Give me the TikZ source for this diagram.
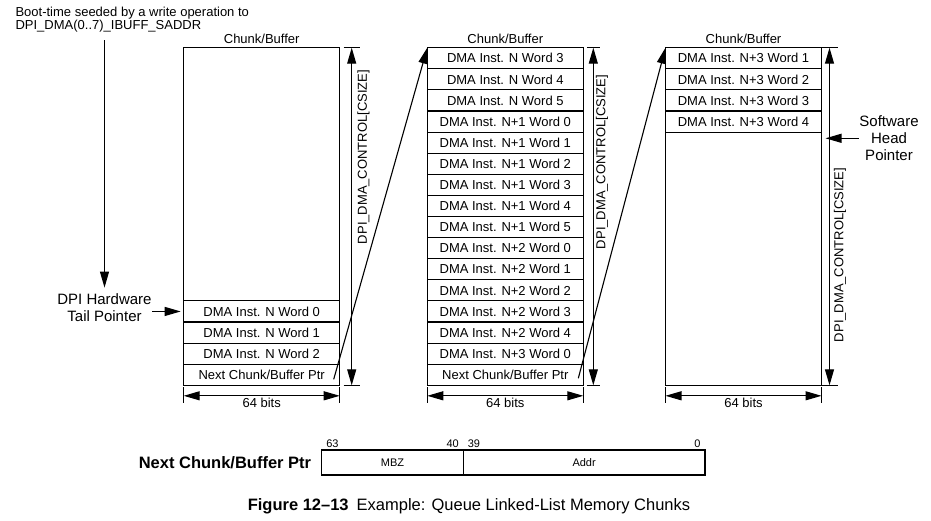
\documentclass[tikz,border=0pt]{standalone}
\usepackage{fontspec}
\setmainfont{Liberation Sans}
\usepackage{tikz}
\usetikzlibrary{arrows.meta, positioning, calc}

\begin{document}
\begin{tikzpicture}[x=1pt, y=-1pt, line width=1.1pt, font=\fontsize{13}{15}\selectfont]
    \tikzstyle{chunk} = [rectangle, draw=black, minimum width=156pt, minimum height=337.6pt, outer sep=0pt, anchor=north west]
    \tikzstyle{word} = [rectangle, draw=black, minimum width=156pt, minimum height=21.1pt, inner sep=0pt, outer sep=0pt]
    \tikzstyle{arrow} = [-{Triangle[length=16pt,width=9pt]}]
    \tikzstyle{dimarrow} = [{Triangle[length=16pt,width=9pt]}-{Triangle[length=16pt,width=9pt]}]
    \tikzstyle{csize} = [rotate=90, inner sep=0pt]
    \tikzstyle{field} = [rectangle, draw=black, minimum height=25pt, inner sep=0pt, outer sep=0pt, font=\fontsize{11}{13}\selectfont]
    \tikzstyle{bitnum} = [inner xsep=4pt, inner ysep=2pt, font=\fontsize{11}{13}\selectfont]

    \useasboundingbox (0,0) rectangle (931,520);

    % chunk frames
    \node (chunk1) [chunk] at (183.7,47.7) {};
    \node (chunk2) [chunk] at (427.3,47.7) {};
    \node (chunk3) [chunk] at (665.5,47.7) {};
    \node (title1) [above=0pt of chunk1] {Chunk/Buffer};
    \node (title2) [above=0pt of chunk2] {Chunk/Buffer};
    \node (title3) [above=0pt of chunk3] {Chunk/Buffer};

    % first chunk
    \node (c1ptr) [word, anchor=south] at (chunk1.south) {Next Chunk/Buffer Ptr};
    \node (c1nw2) [word, above=0pt of c1ptr] {DMA Inst. N Word 2};
    \node (c1nw1) [word, above=0pt of c1nw2] {DMA Inst. N Word 1};
    \node (c1nw0) [word, above=0pt of c1nw1] {DMA Inst. N Word 0};

    % second chunk
    \node (c2nw3) [word, anchor=north] at (chunk2.north) {DMA Inst. N Word 3};
    \node (c2nw4) [word, below=0pt of c2nw3] {DMA Inst. N Word 4};
    \node (c2nw5) [word, below=0pt of c2nw4] {DMA Inst. N Word 5};
    \node (c2n1w0) [word, below=0pt of c2nw5] {DMA Inst. N+1 Word 0};
    \node (c2n1w1) [word, below=0pt of c2n1w0] {DMA Inst. N+1 Word 1};
    \node (c2n1w2) [word, below=0pt of c2n1w1] {DMA Inst. N+1 Word 2};
    \node (c2n1w3) [word, below=0pt of c2n1w2] {DMA Inst. N+1 Word 3};
    \node (c2n1w4) [word, below=0pt of c2n1w3] {DMA Inst. N+1 Word 4};
    \node (c2n1w5) [word, below=0pt of c2n1w4] {DMA Inst. N+1 Word 5};
    \node (c2n2w0) [word, below=0pt of c2n1w5] {DMA Inst. N+2 Word 0};
    \node (c2n2w1) [word, below=0pt of c2n2w0] {DMA Inst. N+2 Word 1};
    \node (c2n2w2) [word, below=0pt of c2n2w1] {DMA Inst. N+2 Word 2};
    \node (c2n2w3) [word, below=0pt of c2n2w2] {DMA Inst. N+2 Word 3};
    \node (c2n2w4) [word, below=0pt of c2n2w3] {DMA Inst. N+2 Word 4};
    \node (c2n3w0) [word, below=0pt of c2n2w4] {DMA Inst. N+3 Word 0};
    \node (c2ptr) [word, below=0pt of c2n3w0] {Next Chunk/Buffer Ptr};

    % third chunk
    \node (c3n3w1) [word, anchor=north] at (chunk3.north) {DMA Inst. N+3 Word 1};
    \node (c3n3w2) [word, below=0pt of c3n3w1] {DMA Inst. N+3 Word 2};
    \node (c3n3w3) [word, below=0pt of c3n3w2] {DMA Inst. N+3 Word 3};
    \node (c3n3w4) [word, below=0pt of c3n3w3] {DMA Inst. N+3 Word 4};

    % chunk size
    \draw ([xshift=4pt]chunk1.north east) -- ([xshift=20pt]chunk1.north east);
    \draw ([xshift=4pt]chunk1.south east) -- ([xshift=20pt]chunk1.south east);
    \draw [dimarrow] ([xshift=12pt]chunk1.north east) -- ([xshift=12pt]chunk1.south east);
    \node (csize1) [csize] at (363.5,157) {DPI\_DMA\_CONTROL[CSIZE]};
    \draw ([xshift=3.5pt]chunk2.north east) -- ([xshift=17pt]chunk2.north east);
    \draw ([xshift=3.5pt]chunk2.south east) -- ([xshift=17pt]chunk2.south east);
    \draw [dimarrow] ([xshift=10pt]chunk2.north east) -- ([xshift=10pt]chunk2.south east);
    \node (csize2) [csize] at (602,162) {DPI\_DMA\_CONTROL[CSIZE]};
    \draw (chunk3.north east) -- ([xshift=16.5pt]chunk3.north east);
    \draw (chunk3.south east) -- ([xshift=16.5pt]chunk3.south east);
    \draw [dimarrow] ([xshift=8pt]chunk3.north east) -- ([xshift=8pt]chunk3.south east);
    \node (csize3) [csize] at (840,255) {DPI\_DMA\_CONTROL[CSIZE]};

    % 64 bits
    \draw ([yshift=-2pt]chunk1.south west) -- ([yshift=-18pt]chunk1.south west);
    \draw ([yshift=-2pt]chunk1.south east) -- ([yshift=-18pt]chunk1.south east);
    \draw [dimarrow] ([yshift=-10.5pt]chunk1.south west) -- ([yshift=-10.5pt]chunk1.south east) node [midway, below, inner sep=2pt] (bits1) {64 bits};
    \draw ([yshift=-2pt]chunk2.south west) -- ([yshift=-18pt]chunk2.south west);
    \draw ([yshift=-2pt]chunk2.south east) -- ([yshift=-18pt]chunk2.south east);
    \draw [dimarrow] ([yshift=-10.5pt]chunk2.south west) -- ([yshift=-10.5pt]chunk2.south east) node [midway, below, inner sep=2pt] (bits2) {64 bits};
    \draw ([yshift=-2pt]chunk3.south west) -- ([yshift=-18pt]chunk3.south west);
    \draw ([yshift=-2pt]chunk3.south east) -- ([yshift=-18pt]chunk3.south east);
    \draw [dimarrow] ([yshift=-10.5pt]chunk3.south west) -- ([yshift=-10.5pt]chunk3.south east) node [midway, below, inner sep=2pt] (bits3) {64 bits};

    % links
    \draw [arrow] ([shift={(-6,-6)}]c1ptr.south east) -- (chunk2.north west);
    \draw [arrow] ([shift={(-5,-7)}]c2ptr.south east) -- (chunk3.north west);

    % pointers
    \node (seed) [anchor=north west, align=left, inner sep=0pt, font=\fontsize{13}{13.5}\selectfont] at (15,6.5) {Boot-time seeded by a write operation to\\DPI\_DMA(0..7)\_IBUFF\_SADDR};
    \node (tail) [align=center, inner sep=0pt, font=\fontsize{15}{16.7}\selectfont] at (104.5,307.5) {DPI Hardware\\Tail Pointer};
    \draw [arrow, shorten <=7pt, shorten >=5.5pt] (seed.south -| tail.north) -- (tail.north);
    \draw [arrow, shorten >=3pt] (tail.east |- c1nw0.west) -- (c1nw0.west);
    \node (soft) [align=center, inner sep=0pt, font=\fontsize{15}{16.7}\selectfont] at (889,138.3) {Software\\Head\\Pointer};
    \draw [arrow, shorten >=4pt] (soft.west) -- (soft.west -| chunk3.east);

    % pointer format
    \node (regname) [anchor=east, inner sep=0pt, font=\bfseries\fontsize{16.5}{18}\selectfont] at (311.7,463) {Next Chunk/Buffer Ptr};
    \node (mbz) [field, minimum width=141.6pt, anchor=north west] at (321.7,450) {MBZ};
    \node (addr) [field, minimum width=241.7pt, right=0pt of mbz] {Addr};
    \node (b63) [bitnum, anchor=south west] at (mbz.north west) {63};
    \node (b40) [bitnum, anchor=south east] at (mbz.north east) {40};
    \node (b39) [bitnum, anchor=south west] at (addr.north west) {39};
    \node (b0) [bitnum, anchor=south east] at (addr.north east) {0};

    \node (caption) [font=\fontsize{16.5}{18}\selectfont] at (469,506) {\textbf{Figure 12–13}\hspace{8pt}Example: Queue Linked-List Memory Chunks};
\end{tikzpicture}
\end{document}
